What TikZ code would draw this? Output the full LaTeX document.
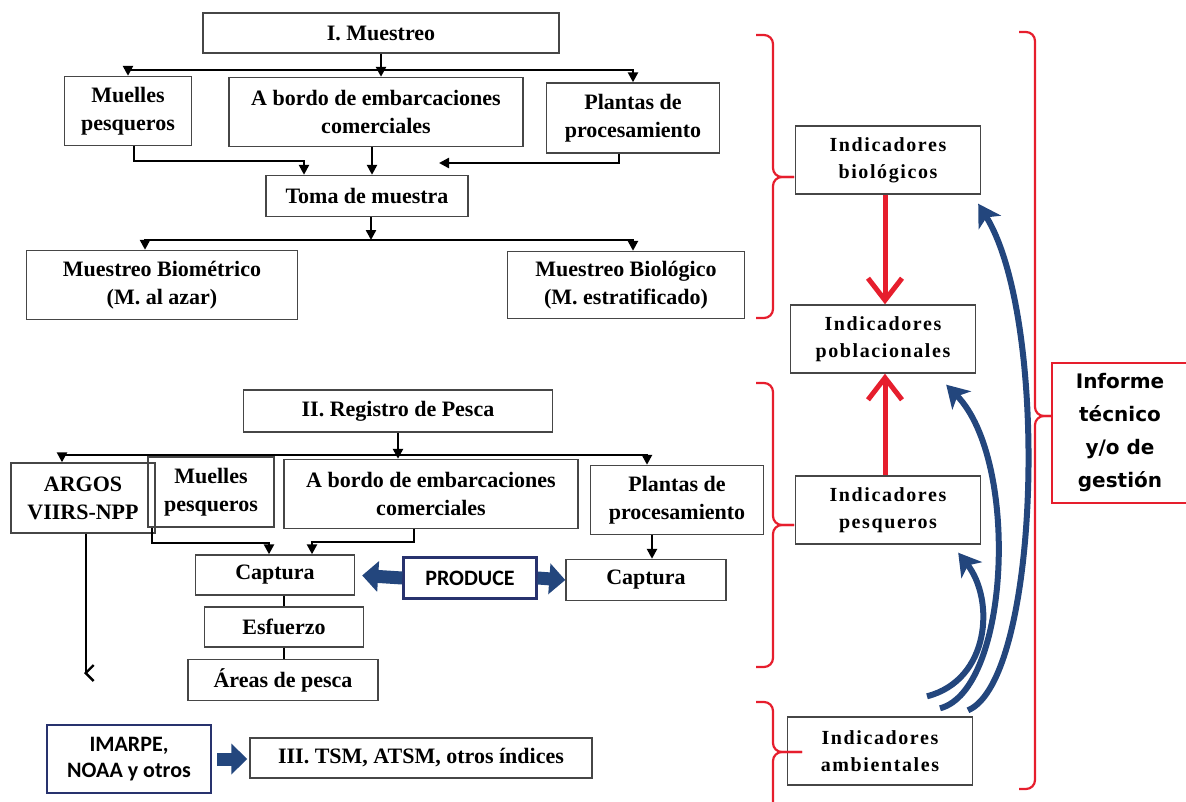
\documentclass[tikz,border=0pt]{standalone}
\usepackage{fontspec}
\setmainfont{Liberation Serif}
\newfontfamily\calfont{Carlito}
\newfontfamily\verdfont{DejaVu Sans}
\newfontfamily\indfont[LetterSpace=8]{Liberation Serif}
\usepackage{xcolor}
\usetikzlibrary{arrows.meta}
\definecolor{boxgray}{RGB}{70,70,70}
\definecolor{redline}{RGB}{230,30,45}
\definecolor{navy}{RGB}{35,70,125}
\definecolor{navybox}{RGB}{40,50,110}

\begin{document}
\begin{tikzpicture}[x=1pt,y=-1pt,>={Triangle[length=10pt,width=10pt]},
	caja/.style={draw=boxgray,line width=1.4pt,align=center,inner sep=0pt,font=\bfseries\fontsize{22}{28}\selectfont},
	indic/.style={draw=boxgray,line width=1.4pt,align=center,inner sep=0pt,minimum width=185pt,minimum height=68pt,font=\indfont\bfseries\fontsize{20}{27}\selectfont},
	fuente/.style={draw=navybox,line width=2.5pt,align=center,inner sep=0pt,font=\calfont\bfseries\fontsize{22}{26}\selectfont},
	flecha/.style={line width=2.4pt},
	llave/.style={draw=redline,line width=2.2pt,rounded corners=9pt},
	gorda/.style={navy,line width=13pt,-{Triangle[length=16pt,width=30pt]}},
	curva/.style={navy,line width=6pt,-{Stealth[length=22pt,width=26pt,inset=6pt]}},
	roja/.style={redline,line width=5pt,-{Straight Barb[length=22pt,width=34pt]}}]
	\useasboundingbox (0,0) rectangle (1186,801);

	\node[caja,minimum width=356pt,minimum height=40pt] (muestreo) at (381,33) {I. Muestreo};
	\node[caja,minimum width=127pt,minimum height=69pt] (muellesa) at (128,111) {Muelles\\pesqueros};
	\node[caja,minimum width=294pt,minimum height=69pt] (abordoa) at (376,112) {A bordo de embarcaciones\\comerciales};
	\node[caja,minimum width=173pt,minimum height=70pt] (plantasa) at (633,118) {Plantas de\\procesamiento};
	\node[caja,minimum width=202pt,minimum height=41pt] (toma) at (367,196) {Toma de muestra};
	\node[caja,minimum width=271pt,minimum height=69pt] (biom) at (162,285) {Muestreo Biométrico\\(M. al azar)};
	\node[caja,minimum width=237pt,minimum height=67pt] (biol) at (626,285) {Muestreo Biológico\\(M. estratificado)};

	\node[caja,minimum width=309pt,minimum height=42pt] (registro) at (398,411) {II. Registro de Pesca};
	\node[caja,minimum width=144pt,minimum height=70pt] (argos) at (83,498) {ARGOS\\VIIRS-NPP};
	\node[caja,minimum width=126pt,minimum height=70pt] (muellesb) at (211,492) {Muelles\\pesqueros};
	\node[caja,minimum width=294pt,minimum height=69pt] (abordob) at (431,494) {A bordo de embarcaciones\\comerciales};
	\node[caja,minimum width=173pt,minimum height=69pt] (plantasb) at (677,500) {Plantas de\\procesamiento};
	\node[caja,minimum width=159pt,minimum height=40pt] (capturaa) at (275,575) {Captura};
	\node[caja,minimum width=159pt,minimum height=40pt] (esfuerzo) at (284,627) {Esfuerzo};
	\node[caja,minimum width=190pt,minimum height=41pt] (areas) at (283,680) {Áreas de pesca};
	\node[fuente,minimum width=133pt,minimum height=41pt] (produce) at (470,578) {PRODUCE};
	\node[caja,minimum width=160pt,minimum height=41pt] (capturab) at (646,580) {Captura};

	\node[fuente,minimum width=164pt,minimum height=68pt] (imarpe) at (129,759) {IMARPE,\\NOAA y otros};
	\node[caja,minimum width=342pt,minimum height=40pt] (tsm) at (421,758) {III. TSM, ATSM, otros índices};

	\node[indic] (biologicos) at (888,160) {Indicadores\\biológicos};
	\node[indic] (poblacionales) at (883,339) {Indicadores\\poblacionales};
	\node[indic] (pesqueros) at (888,510) {Indicadores\\pesqueros};
	\node[indic] (ambientales) at (880,751) {Indicadores\\ambientales};
	\node[draw=redline,line width=2.2pt,align=center,minimum width=136pt,minimum height=140pt,font=\verdfont\bfseries\fontsize{20}{33}\selectfont] (informe) at (1120,433) {Informe\\técnico\\y/o de\\gestión};

	\coordinate (busa) at (381,70);
	\coordinate (busb) at (371,240);
	\coordinate (busc) at (398,455);
	\coordinate (tomatip) at (439,163);
	\coordinate (argostip) at (84,673);

	\draw[flecha,->] (muestreo.south) -- (muestreo.south |- abordoa.north);
	\draw[flecha,<->] (muellesa.north) |- (busa) -| (plantasa.north);
	\draw[flecha,->] ([xshift=6pt]muellesa.south) -- ++(0,15) -| ([xshift=-63pt]toma.north);
	\draw[flecha,->] ([xshift=-4pt]abordoa.south) -- ([xshift=5pt]toma.north);
	\draw[flecha,->] ([xshift=-14pt]plantasa.south) |- (tomatip);
	\draw[flecha,->] ([xshift=4pt]toma.south) -- (busb);
	\draw[flecha,<->] ([xshift=-17pt]biom.north) |- (busb) -| ([xshift=7pt]biol.north);

	\draw[flecha,->] (registro.south) -- (registro.south |- abordob.north);
	\draw[flecha,<->] ([xshift=-21pt]argos.north) |- (busc) -| ([xshift=-30pt]plantasb.north);
	\draw[flecha,-{Straight Barb[length=8pt,width=16pt]}] ([xshift=3pt]argos.south) |- (argostip);
	\draw[flecha,->] ([xshift=-59pt]muellesb.south) -- ++(0,15) -| ([xshift=-6pt]capturaa.north);
	\draw[flecha,->] ([xshift=-17pt]abordob.south) -- ++(0,13) -| ([xshift=37pt]capturaa.north);
	\draw[flecha,->] ([xshift=-25pt]plantasb.south) -- ([xshift=6pt]capturab.north);
	\draw[flecha] (esfuerzo.north) -- (esfuerzo.north |- capturaa.south);
	\draw[flecha] (esfuerzo.south) -- (esfuerzo.south |- areas.north);

	\draw[gorda,shorten >=7pt] (produce.west) -- (capturaa.east);
	\draw[gorda] (produce.east) -- (capturab.west);
	\draw[gorda,shorten <=5pt,shorten >=2pt] (imarpe.east) -- (imarpe.east -| tsm.west);

	\path ([xshift=-3pt]biologicos.south) edge[roja] ([xshift=2pt]poblacionales.north);
	\path ([xshift=-3pt]pesqueros.north) edge[roja] ([xshift=2pt]poblacionales.south);

	\draw[curva] ([xshift=88pt,yshift=6pt]ambientales.north) .. controls (1040,680) and (1050,320) .. ([xshift=-3pt,yshift=-9pt]biologicos.south east);
	\draw[curva] ([xshift=60pt,yshift=8pt]ambientales.north) .. controls (1010,690) and (1020,460) .. ([xshift=-30pt,yshift=-11pt]poblacionales.south east);
	\draw[curva] ([xshift=47pt,yshift=20pt]ambientales.north) .. controls (990,680) and (995,600) .. ([xshift=-23pt,yshift=-8pt]pesqueros.south east);

	\draw[llave] (756,35) -- (773,35) -- (773,177) -- (794,177);
	\draw[llave] (794,177) -- (773,177) -- (773,318) -- (756,318);
	\draw[llave] (756,383) -- (773,383) -- (773,525) -- (794,525);
	\draw[llave] (794,525) -- (773,525) -- (773,667) -- (756,667);
	\draw[llave] (756,702) -- (773,702) -- (773,752) -- (802,752);
	\draw[llave] (802,752) -- (773,752) -- (773,812);
	\draw[llave] (1019,32) -- (1035,32) -- (1035,416) -- (1052,416);
	\draw[llave] (1052,416) -- (1035,416) -- (1035,789) -- (1019,789);
\end{tikzpicture}
\end{document}
